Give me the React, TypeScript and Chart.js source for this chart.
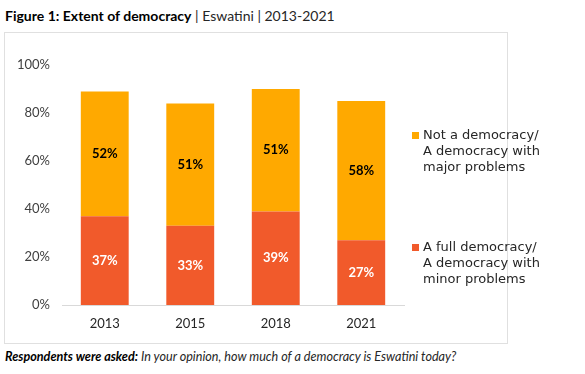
import React, { useEffect, useRef } from "react";
import { Chart, registerables } from "chart.js";

Chart.register(...registerables);

const years = ["2013", "2015", "2018", "2021"];
const fullDemocracy = [37, 33, 39, 27];
const notDemocracy = [52, 51, 51, 58];
const legendNot = ["Not a democracy/", "A democracy with", "major problems"];
const legendFull = ["A full democracy/", "A democracy with", "minor problems"];
const yTicks = [0, 20, 40, 60, 80, 100];

const ORANGE = "#FFA900";
const RED = "#F15A2B";
const FONT = "Lato, 'DejaVu Sans', sans-serif";
const LEGEND_FONT = "'DejaVu Sans', sans-serif";

const labelPlugin = {
  id: "segLabels",
  afterDatasetsDraw(chart: any) {
    const ctx = chart.ctx;
    chart.data.datasets.forEach((ds: any, di: number) => {
      const meta = chart.getDatasetMeta(di);
      meta.data.forEach((el: any, i: number) => {
        const v = ds.data[i];
        const y = (el.y + el.base) / 2;
        ctx.save();
        ctx.font = `bold 13px ${FONT}`;
        ctx.fillStyle = ds.labelColor;
        ctx.textAlign = "center";
        ctx.textBaseline = "middle";
        ctx.fillText(v + "%", el.x, y);
        ctx.restore();
      });
    });
  },
};

export default function App() {
  const ref = useRef<HTMLCanvasElement>(null);
  useEffect(() => {
    const chart = new Chart(ref.current!, {
      type: "bar",
      data: {
        labels: years,
        datasets: [
          {
            label: legendFull.join(" "),
            data: fullDemocracy,
            backgroundColor: RED,
            labelColor: "#ffffff",
            barPercentage: 0.56,
            categoryPercentage: 1,
          } as any,
          {
            label: legendNot.join(" "),
            data: notDemocracy,
            backgroundColor: ORANGE,
            labelColor: "#000000",
            barPercentage: 0.56,
            categoryPercentage: 1,
          } as any,
        ],
      },
      options: {
        animation: false,
        responsive: false,
        maintainAspectRatio: false,
        layout: { padding: { top: 32, right: 103, left: 0, bottom: 0 } },
        plugins: { legend: { display: false }, tooltip: { enabled: false } },
        scales: {
          x: {
            stacked: true,
            grid: { display: false, drawTicks: false },
            border: { display: true, color: "#d9d9d9", width: 1 },
            ticks: { padding: 11, color: "#262626", font: { family: FONT, size: 13 } },
            afterFit: (s: any) => { s.height = 38; },
          },
          y: {
            stacked: true,
            min: 0,
            max: 100,
            grid: { display: false, drawTicks: false },
            border: { display: false },
            afterBuildTicks: (s: any) => { s.ticks = yTicks.map((v) => ({ value: v })); },
            ticks: {
              padding: 12,
              color: "#404040",
              font: { family: FONT, size: 13 },
              callback: (v: any) => v + "%",
            },
            afterFit: (s: any) => { s.width = 57; },
          },
        },
      },
      plugins: [labelPlugin],
    });
    return () => chart.destroy();
  }, []);

  const legendItem = (lines: string[], color: string, top: number) => (
    <div style={{ position: "absolute", left: 407, top, fontFamily: LEGEND_FONT, fontSize: 13, lineHeight: "16px", color: "#262626" }}>
      <div style={{ position: "absolute", left: 0, top: 5, width: 7, height: 7, background: color }} />
      <div style={{ marginLeft: 11 }}>
        {lines.map((l, i) => (<div key={i} style={{ whiteSpace: "nowrap" }}>{l}</div>))}
      </div>
    </div>
  );

  return (
    <div style={{ position: "absolute", left: 0, top: 0, width: 585, height: 374, background: "#fff", fontFamily: FONT }}>
      <div style={{ position: "absolute", left: 5, top: 7, fontSize: 14, color: "#262626", whiteSpace: "nowrap" }}>
        <b style={{ color: "#000" }}>Figure 1: Extent of democracy</b> | Eswatini | 2013-2021
      </div>
      <div style={{ position: "absolute", left: 4, top: 32, width: 502, height: 310, border: "1.5px solid #e0e0e0" }}>
        <canvas ref={ref} width={502} height={310} style={{ position: "absolute", left: 0, top: 0 }} />
        {legendItem(legendNot, ORANGE, 94)}
        {legendItem(legendFull, RED, 206)}
      </div>
      <div style={{ position: "absolute", left: 5, top: 349, fontSize: 12.6, fontStyle: "italic", color: "#262626", whiteSpace: "nowrap" }}>
        <b style={{ color: "#000" }}>Respondents were asked:</b> In your opinion, how much of a democracy is Eswatini today?
      </div>
    </div>
  );
}
